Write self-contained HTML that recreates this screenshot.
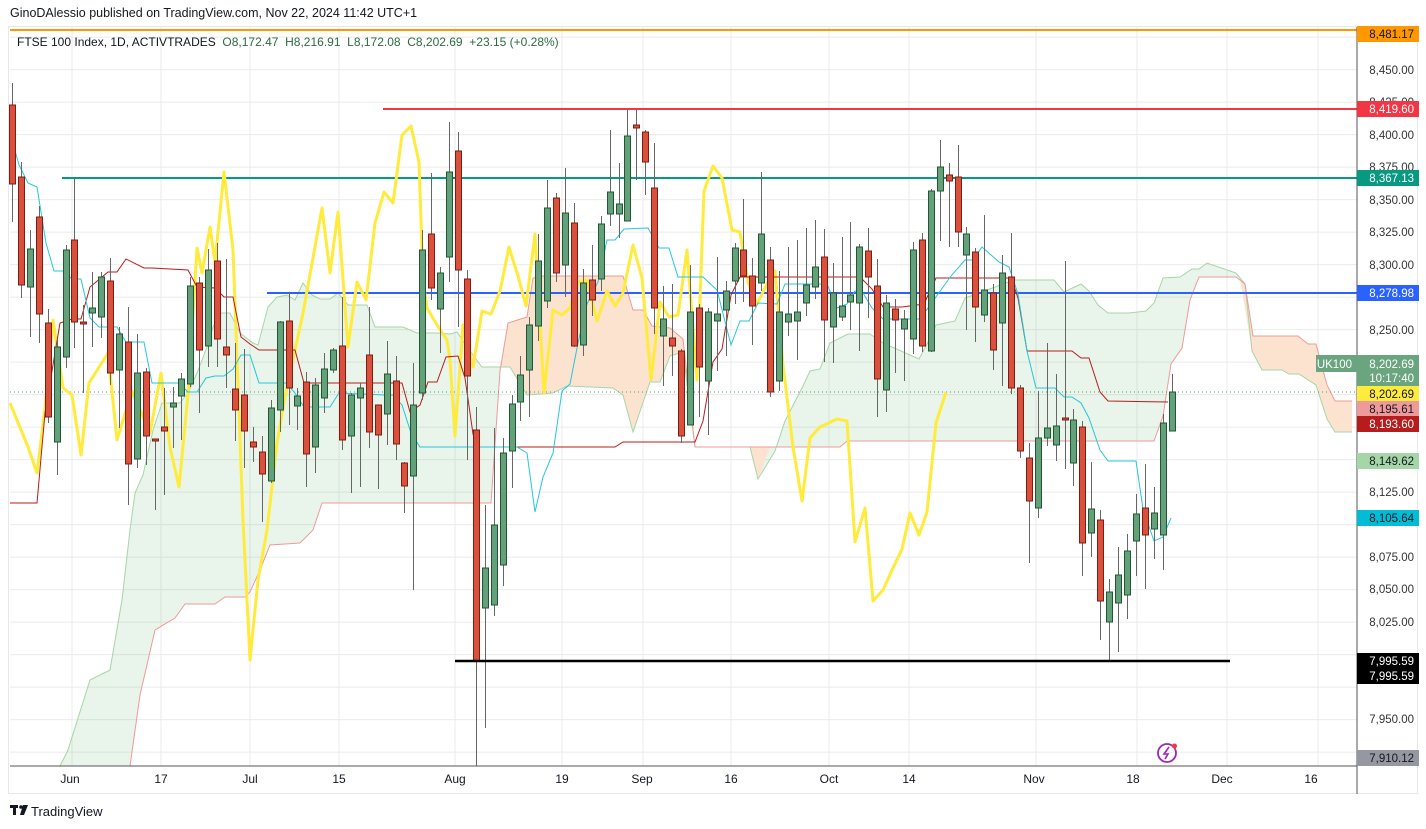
<!DOCTYPE html>
<html><head><meta charset="utf-8">
<style>
html,body{margin:0;padding:0;background:#fff;}
svg{display:block;font-family:"Liberation Sans",sans-serif;}
</style></head>
<body>
<svg id="s" width="1426" height="829" viewBox="0 0 1426 829" xmlns="http://www.w3.org/2000/svg">
<rect width="1426" height="829" fill="#fff"/>
<text x="10" y="17" font-size="12.5" fill="#131722">GinoDAlessio published on TradingView.com, Nov 22, 2024 11:42 UTC+1</text>
<rect x="8.5" y="26.5" width="1409" height="767" fill="none" stroke="#e6e8ee"/>
<g id="grid" stroke="#ebebeb" stroke-width="1"></g>
<g id="cloud"></g>
<!-- horizontal levels -->
<line x1="10" y1="30" x2="1357" y2="30" stroke="#ff9800" stroke-width="2"/>
<line x1="383" y1="109" x2="1357" y2="109" stroke="#f23645" stroke-width="2"/>
<line x1="62" y1="178" x2="1357" y2="178" stroke="#089981" stroke-width="2"/>
<line x1="267" y1="293" x2="1357" y2="293" stroke="#2962ff" stroke-width="2"/>
<line x1="10" y1="392" x2="1357" y2="392" stroke="#5b9a6c" stroke-width="1" stroke-dasharray="1,3"/>
<g id="lines"></g>
<g id="candles"></g>
<line x1="455" y1="661" x2="1230" y2="661" stroke="#000" stroke-width="2.5"/>
<!-- axes -->
<line x1="10" y1="766" x2="1357" y2="766" stroke="#555" stroke-width="1"/>
<line x1="1357" y1="27" x2="1357" y2="794" stroke="#555" stroke-width="1"/>
<g font-size="12" fill="#131722" text-anchor="middle">
<text x="70" y="783">Jun</text><text x="161" y="783">17</text><text x="250" y="783">Jul</text><text x="339" y="783">15</text>
<text x="455" y="783">Aug</text><text x="562" y="783">19</text><text x="642" y="783">Sep</text><text x="731" y="783">16</text>
<text x="829" y="783">Oct</text><text x="909" y="783">14</text><text x="1034" y="783">Nov</text><text x="1133" y="783">18</text>
<text x="1222" y="783">Dec</text><text x="1311" y="783">16</text>
</g>
<g font-size="11.5" fill="#333" text-anchor="end">
<text x="1414" y="74">8,450.00</text><text x="1414" y="106">8,425.00</text><text x="1414" y="139">8,400.00</text>
<text x="1414" y="171">8,375.00</text><text x="1414" y="204">8,350.00</text><text x="1414" y="236">8,325.00</text>
<text x="1414" y="269">8,300.00</text><text x="1414" y="334">8,250.00</text><text x="1414" y="496">8,125.00</text>
<text x="1414" y="561">8,075.00</text><text x="1414" y="593">8,050.00</text><text x="1414" y="626">8,025.00</text>
<text x="1414" y="723">7,950.00</text>
</g>
<g font-size="11.5" text-anchor="end">
<rect x="1357" y="26" width="62" height="16" fill="#ff9800"/><text x="1414" y="38" fill="#131722">8,481.17</text>
<rect x="1357" y="101" width="62" height="16" fill="#f23645"/><text x="1414" y="113" fill="#fff">8,419.60</text>
<rect x="1357" y="170" width="62" height="16" fill="#089981"/><text x="1414" y="182" fill="#fff">8,367.13</text>
<rect x="1357" y="285" width="62" height="16" fill="#2962ff"/><text x="1414" y="297" fill="#fff">8,278.98</text>
<rect x="1316" y="355" width="41" height="17" fill="#6aa57f"/><text x="1352" y="368" fill="#fff">UK100</text>
<rect x="1357" y="355" width="62" height="31" fill="#6aa57f"/><text x="1414" y="368" fill="#fff">8,202.69</text><text x="1414" y="382" fill="#fff">10:17:40</text>
<rect x="1357" y="386" width="62" height="15" fill="#ffeb3b"/><text x="1414" y="398" fill="#131722">8,202.69</text>
<rect x="1357" y="401" width="62" height="15" fill="#ef9a9a"/><text x="1414" y="413" fill="#131722">8,195.61</text>
<rect x="1357" y="416" width="62" height="16" fill="#b71c1c"/><text x="1414" y="428" fill="#fff">8,193.60</text>
<rect x="1357" y="453" width="62" height="16" fill="#a5d6a7"/><text x="1414" y="465" fill="#131722">8,149.62</text>
<rect x="1357" y="510" width="62" height="16" fill="#00bcd4"/><text x="1414" y="522" fill="#131722">8,105.64</text>
<rect x="1357" y="653" width="62" height="31" fill="#000"/><text x="1414" y="665" fill="#fff">7,995.59</text><text x="1414" y="680" fill="#fff">7,995.59</text>
<rect x="1357" y="750" width="62" height="16" fill="#9598a1"/><text x="1414" y="762" fill="#131722">7,910.12</text>
</g>
<!-- legend -->
<text x="17" y="46" font-size="12" fill="#131722">FTSE 100 Index, 1D, ACTIVTRADES <tspan fill="#2e6b3e">&#160;O8,172.47 &#160;H8,216.91 &#160;L8,172.08 &#160;C8,202.69 &#160;+23.15 (+0.28%)</tspan></text>
<!-- icon -->
<circle cx="1167" cy="753" r="9" fill="none" stroke="#9c27b0" stroke-width="1.8"/>
<path d="M1169 747 L1164 754 L1168 754 L1165 759" fill="none" stroke="#9c27b0" stroke-width="1.6"/>
<circle cx="1174.5" cy="746" r="2.5" fill="#f23645"/>
<!-- logo -->
<g fill="#131722"><rect x="10" y="805" width="8" height="3"/><rect x="13" y="805" width="3" height="10"/><circle cx="21" cy="807" r="1.8"/><path d="M23 805 L28 805 L24 815 L20 815 Z"/></g>
<text x="31" y="816" font-size="13" fill="#131722">TradingView</text>
</svg>
<script>
var NS="http://www.w3.org/2000/svg";
function el(p,t,a){var e=document.createElementNS(NS,t);for(var k in a)e.setAttribute(k,a[k]);p.appendChild(e);return e;}
var grid=document.getElementById('grid');
[72,161,250,339,455,562,643,731,829,909,1036,1137,1227,1318].forEach(function(x){el(grid,'line',{x1:x,y1:27,x2:x,y2:766});});
for(var k=-3;k<20;k++){var y=134.6+k*32.5;if(y>27&&y<766)el(grid,'line',{x1:10,y1:y,x2:1357,y2:y});}
function pts(a){return a.map(function(p){return p[0]+','+p[1]}).join(' ');}
var A=[[60,766],[68,750],[90,680],[110,670],[122,600],[130,530],[135,493],[143,475],[153,430],[162,403],[180,403],[188,393],[197,373],[207,347],[213,327],[220,313],[230,313],[240,333],[253,343],[258,345],[268,307],[277,297],[287,295],[295,300],[303,283],[312,295],[320,299],[330,299],[338,293],[348,305],[367,305],[375,327],[403,327],[417,333],[437,333],[450,334],[457,332],[467,347],[482,367],[510,367],[527,395],[553,393],[567,386],[613,388],[623,395],[633,432],[650,382],[660,382],[670,356],[683,352],[695,447],[750,447],[758,479],[775,451],[785,421],[803,386],[810,371],[820,369],[830,343],[848,334],[870,334],[883,343],[919,359],[927,344],[936,325],[955,321],[965,298],[1014,280],[1054,280],[1064,292],[1081,284],[1089,291],[1098,305],[1108,313],[1129,313],[1146,311],[1154,303],[1163,278],[1180,277],[1192,269],[1199,269],[1207,263],[1236,273],[1245,284],[1252,351],[1262,370],[1282,370],[1289,374],[1299,374],[1316,385],[1327,419],[1335,432],[1352,432]];
var B=[[130,766],[140,695],[155,630],[175,618],[185,604],[215,604],[225,597],[245,597],[250,592],[260,570],[270,545],[300,543],[313,530],[322,503],[491,503],[500,371],[508,323],[527,317],[533,278],[543,276],[623,276],[633,310],[643,310],[652,326],[670,328],[683,339],[695,447],[840,447],[847,441],[1154,441],[1163,416],[1171,364],[1182,348],[1190,300],[1199,277],[1236,277],[1245,284],[1253,336],[1298,336],[1308,344],[1316,344],[1327,385],[1335,401],[1352,401]];
var cl=document.getElementById('cloud');
el(cl,'polygon',{points:pts(A.concat(B.slice().reverse())),fill:'rgba(76,175,80,0.12)'});
el(cl,'polygon',{points:'499,367 500,371 508,323 527,317 533,278 543,276 623,276 633,310 643,310 652,326 670,328 683,339 695,447 683,352 670,356 660,382 650,382 633,432 623,395 613,388 567,386 553,393 527,395 510,367',fill:'#fce3cf'});
el(cl,'polygon',{points:'750,447 758,479 770,447',fill:'#fce3cf'});
el(cl,'polygon',{points:'1240,279 1245,284 1253,336 1298,336 1308,344 1316,344 1327,385 1335,401 1352,401 1352,432 1335,432 1327,419 1316,385 1299,374 1289,374 1282,370 1262,370 1252,351',fill:'#fce3cf'});
el(cl,'polyline',{points:pts(A),fill:'none',stroke:'#a5d6a7','stroke-width':1});
el(cl,'polyline',{points:pts(B),fill:'none',stroke:'#ef9a9a','stroke-width':1});
var L=document.getElementById('lines');
var chik=[[10,403],[28,447],[37,473],[45,408],[53,320],[63,388],[72,395],[81,455],[89,383],[108,353],[117,440],[132,391],[150,433],[161,373],[170,447],[179,487],[188,395],[197,248],[202,273],[210,227],[215,262],[224,172],[233,250],[243,520],[250,660],[258,580],[267,530],[277,443],[285,397],[303,313],[322,208],[330,273],[338,212],[348,347],[357,282],[366,300],[375,223],[384,192],[393,203],[402,135],[411,126],[419,162],[423,280],[427,308],[437,325],[447,340],[450,360],[455,436],[463,325],[473,367],[482,311],[491,314],[500,291],[509,247],[518,276],[526,306],[535,234],[544,393],[553,310],[562,315],[570,308],[578,282],[587,280],[597,321],[607,291],[615,306],[623,293],[633,245],[642,278],[651,380],[660,302],[669,317],[678,315],[687,250],[697,380],[704,191],[713,166],[722,178],[732,230],[740,232],[748,282],[757,304],[767,284],[775,271],[783,365],[793,447],[802,501],[810,438],[820,427],[837,419],[847,421],[855,542],[865,508],[873,601],[883,590],[893,568],[902,549],[910,513],[919,535],[927,512],[936,423],[946,392]];
el(L,'polyline',{points:pts(chik),fill:'none',stroke:'#ffeb3b','stroke-width':3,'stroke-linejoin':'round'});
var kij=[[10,503],[37,503],[45,413],[60,323],[72,319],[81,319],[90,287],[108,272],[117,272],[126,259],[144,268],[152,268],[188,270],[197,287],[215,288],[224,297],[233,297],[241,337],[250,344],[259,350],[295,350],[304,383],[402,383],[410,412],[420,405],[428,382],[437,382],[446,357],[458,356],[465,378],[473,434],[477,447],[615,447],[623,442],[695,442],[703,421],[713,362],[722,349],[731,295],[740,277],[860,277],[872,289],[883,307],[902,307],[924,304],[936,278],[1011,278],[1018,298],[1027,351],[1072,351],[1081,358],[1089,358],[1100,392],[1108,401],[1168,402]];
el(L,'polyline',{points:pts(kij),fill:'none',stroke:'#b71c1c','stroke-width':1});
var ten=[[12,140],[19,165],[28,183],[37,187],[46,243],[54,271],[63,271],[72,279],[81,279],[90,318],[99,327],[117,327],[126,342],[144,342],[152,383],[179,383],[188,392],[197,392],[206,378],[215,376],[224,376],[233,369],[241,355],[250,355],[259,383],[277,383],[286,383],[295,393],[304,407],[330,407],[339,393],[384,395],[393,395],[402,405],[411,433],[420,447],[517,447],[527,453],[535,512],[543,477],[553,453],[562,391],[570,384],[578,343],[587,304],[598,282],[607,240],[615,240],[624,229],[648,228],[659,248],[669,248],[678,277],[703,277],[717,290],[731,345],[740,321],[749,321],[758,303],[777,304],[785,284],[827,284],[837,308],[847,304],[855,291],[863,293],[872,308],[883,319],[920,319],[951,276],[965,260],[973,260],[982,247],[999,262],[1009,267],[1018,294],[1027,351],[1036,388],[1055,388],[1064,397],[1072,397],[1081,403],[1089,418],[1100,450],[1108,461],[1136,461],[1143,509],[1154,541],[1163,537],[1171,518]];
el(L,'polyline',{points:pts(ten),fill:'none',stroke:'#26c6da','stroke-width':1});
var D=`r 105 184 83 222
r 177 285 162 298
g 249 287 230 337
r 217 314 206 343
r 323 417 309 423
g 347 442 340 475
g 250 357 245 368
r 240 322 178 348
r 322 324 305 393
g 308 313 272 347
g 277 317 272 338
r 281 373 258 385
g 334 370 327 428
r 342 464 307 505
g 373 459 334 468
r 372 436 368 465
r 439 441 439 510
r 427 431 388 495
g 403 407 387 448
g 379 396 373 440
g 286 384 277 387
r 283 350 277 413
g 270 346 249 367
r 261 339 243 367
r 347 355 259 388
r 389 410 343 441
r 395 431 349 468
r 442 447 427 462
r 452 474 436 522
g 408 481 400 483
g 322 410 321 432
r 321 388 292 425
g 396 406 388 430
r 382 454 372 487
g 385 447 378 473
g 369 398 353 413
g 350 370 348 373
r 346 440 297 450
g 395 436 393 493
g 388 398 383 487
r 355 432 307 448
r 405 435 405 489
g 374 414 341 445
r 381 444 356 460
r 463 486 462 513
g 405 476 363 590
g 250 393 230 400
r 234 288 173 300
g 273 309 267 353
g 172 257 122 282
r 151 270 132 327
r 279 376 270 460
r 430 661 407 766
g 568 608 505 728
g 525 605 428 616
g 453 565 438 586
g 404 451 395 488
g 375 402 356 421
g 325 370 317 417
g 261 326 234 341
g 208 301 180 308
r 198 273 193 282
g 213 265 168 297
r 223 346 203 347
g 283 345 269 356
r 280 300 245 316
g 224 279 216 291
g 192 214 130 226
g 204 214 163 238
g 136 221 110 221
r 125 128 110 180
r 132 162 130 195
r 188 308 143 334
g 319 336 286 386
r 338 346 284 376
r 351 436 349 443
g 312 425 265 425
r 308 367 304 417
g 312 381 308 435
g 314 321 257 371
g 291 310 281 356
g 248 281 243 304
r 250 276 199 302
r 276 306 258 345
g 234 283 172 291
r 260 392 247 397
g 312 381 271 391
g 314 322 247 336
g 312 321 240 360
g 285 303 228 316
g 267 287 220 299
r 257 320 229 362
g 293 327 263 363
g 306 317 237 321
g 295 302 222 330
g 247 303 244 351
r 251 277 228 318
r 286 379 259 417
g 303 390 295 412
r 309 320 299 373
g 319 329 310 381
g 250 339 242 354
r 240 346 233 352
g 191 351 189 352
g 167 191 140 241
r 175 181 163 247
r 177 232 145 247
g 234 255 227 330
r 252 307 248 342
g 290 315 215 322
r 293 350 284 370
g 273 323 255 386
r 277 388 233 394
r 388 451 385 458
r 458 501 443 563
g 438 508 391 518
g 428 438 343 446
g 426 445 374 461
r 418 420 261 469
g 420 463 409 486
r 427 543 421 576
g 509 533 462 557
r 520 601 510 640
g 592 622 579 661
g 575 603 547 652
g 551 595 534 619
g 514 541 494 576
r 508 535 464 589
g 513 529 487 559
g 423 535 414 570
g 392 431 374 431`.split('\n');
var C=document.getElementById('candles');
D.forEach(function(s,i){var p=s.trim().split(/\s+/);var g=p[0]=='g';var bt=+p[1],bb=+p[2],wt=+p[3],wb=+p[4];
var x=Math.round(12+i*8.92)+0.5;
el(C,'line',{x1:x,y1:wt,x2:x,y2:wb,stroke:'#666','stroke-width':1});
var h=Math.max(bb-bt,2);
el(C,'rect',{x:x-3,y:bt,width:6,height:h,fill:g?'#64a17a':'#d9503d',stroke:g?'#1f5732':'#7d1c12','stroke-width':1});
});
</script>
</body></html>
